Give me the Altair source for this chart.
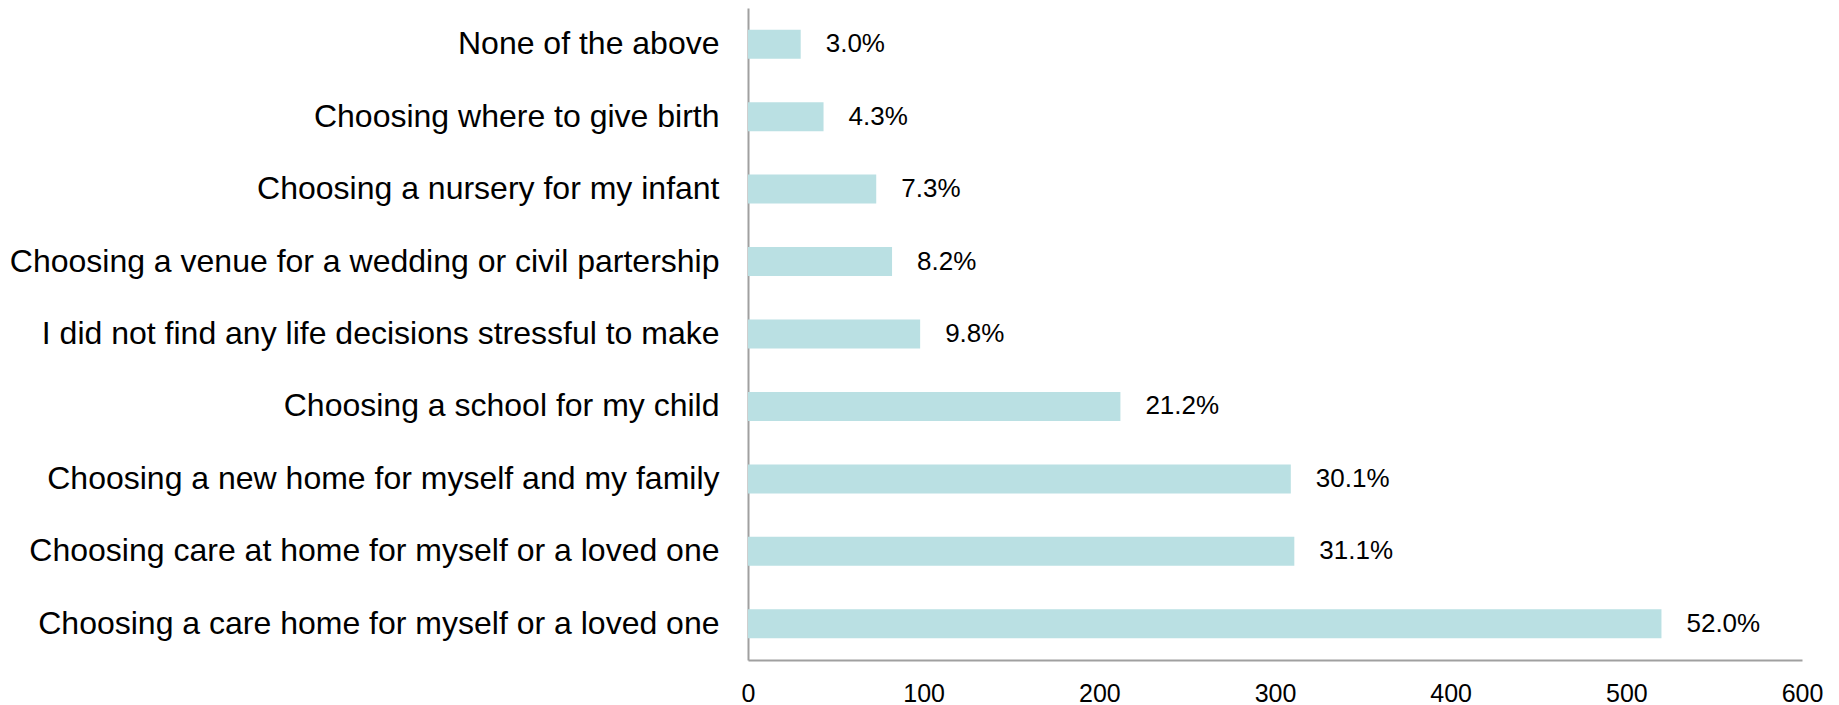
import altair as alt
import pandas as pd

categories = [
    "None of the above",
    "Choosing where to give birth",
    "Choosing a nursery for my infant",
    "Choosing a venue for a wedding or civil partership",
    "I did not find any life decisions stressful to make",
    "Choosing a school for my child",
    "Choosing a new home for myself and my family",
    "Choosing care at home for myself or a loved one",
    "Choosing a care home for myself or a loved one",
]
counts = [30, 43, 73, 82, 98, 212, 309, 311, 520]
pct_labels = ["3.0%", "4.3%", "7.3%", "8.2%", "9.8%", "21.2%", "30.1%", "31.1%", "52.0%"]
x_ticks = [0, 100, 200, 300, 400, 500, 600]

df = pd.DataFrame({"category": categories, "count": counts, "label": pct_labels})

FONT = "Liberation Sans"

y_enc = alt.Y(
    "category:N",
    sort=categories,
    scale=alt.Scale(paddingInner=0.6, paddingOuter=0.3),
    axis=alt.Axis(
        title=None,
        ticks=False,
        tickSize=0,
        labelFontSize=32,
        labelFont=FONT,
        labelColor="#000000",
        labelPadding=29,
        labelLimit=2000,
        domainColor="#a0a0a0",
        domainWidth=2,
        grid=False,
    ),
)

x_enc = alt.X(
    "count:Q",
    scale=alt.Scale(domain=[0, 600], nice=False),
    axis=alt.Axis(
        title=None,
        values=x_ticks,
        ticks=False,
        tickSize=0,
        labelFontSize=25,
        labelFont=FONT,
        labelColor="#000000",
        labelPadding=21,
        labelFlush=False,
        domainColor="#a0a0a0",
        domainWidth=2,
        grid=False,
    ),
)

bars = alt.Chart(df).mark_bar(color="#bae0e3").encode(x=x_enc, y=y_enc)

labels = alt.Chart(df).mark_text(
    align="left", baseline="middle", dx=25, fontSize=26, font=FONT, color="#000000"
).encode(x="count:Q", y=alt.Y("category:N", sort=categories), text="label:N")

chart = (
    alt.layer(bars, labels)
    .properties(
        width=1054,
        height=652,
        autosize="none",
        background="white",
        padding={"left": 740, "top": 0, "right": 25, "bottom": 45},
    )
    .configure_view(strokeWidth=0, stroke=None)
)

chart.save("out.html", embed_options={"renderer": "svg", "actions": False})
